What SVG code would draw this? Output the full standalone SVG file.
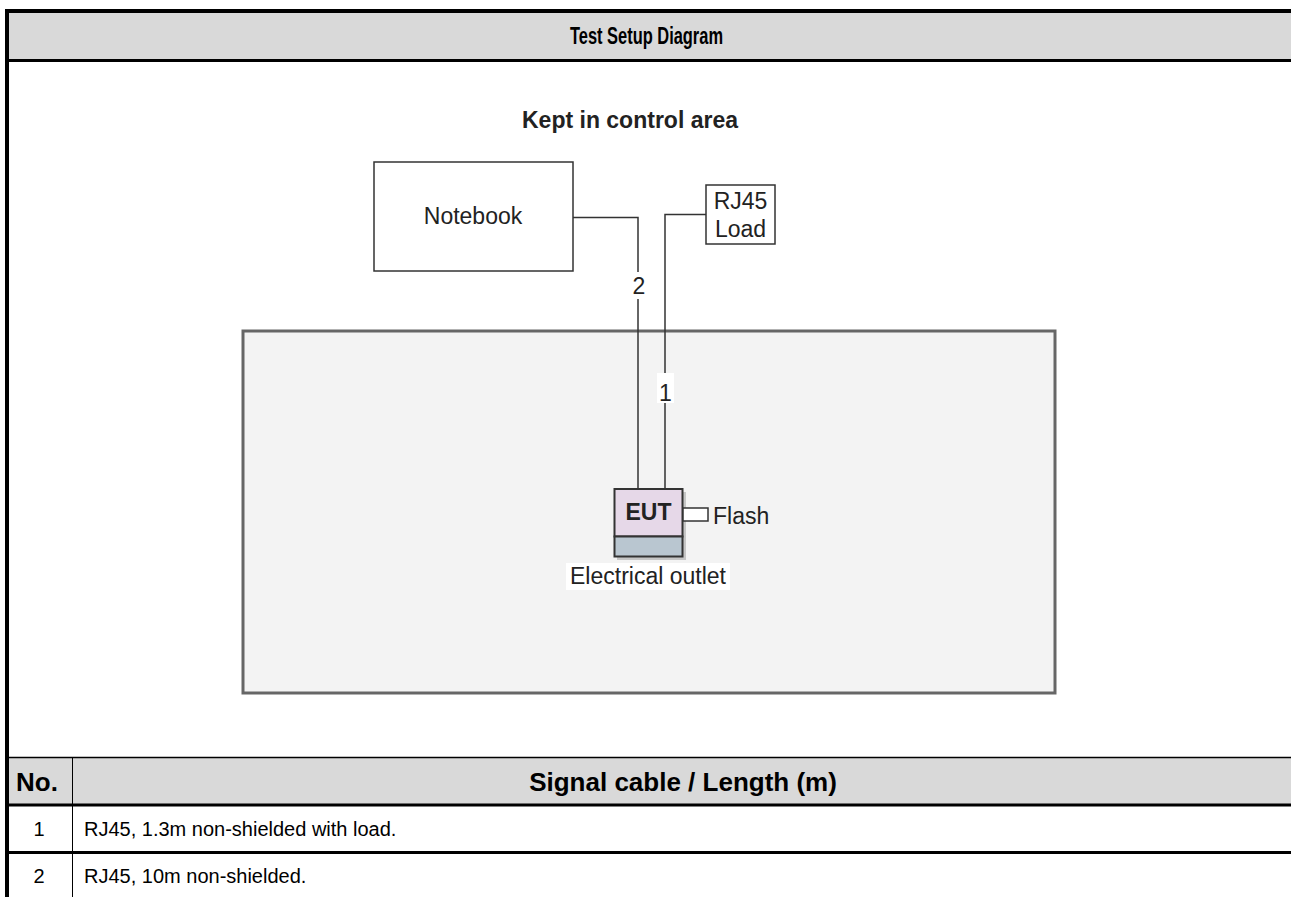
<svg xmlns="http://www.w3.org/2000/svg" width="1291" height="897" viewBox="0 0 1291 897">
<defs>
<style>
.t{font-family:"Liberation Sans",Arial,sans-serif;fill:#000}
.b{font-weight:bold}
.d{font-family:"Liberation Sans",Arial,sans-serif;fill:#222;font-size:23px}
.box{fill:#fff;stroke:#333;stroke-width:1.5}
.wire{fill:none;stroke:#333;stroke-width:1.5}
</style>
</defs>
<rect x="0" y="0" width="1291" height="897" fill="#fff"/>
<g id="frame">
<rect x="9" y="13" width="1282" height="46" fill="#d9d9d9"/>
<rect x="9" y="758" width="1282" height="46" fill="#d9d9d9"/>
<line x1="7" y1="9" x2="7" y2="897" stroke="#000" stroke-width="4"/>
<line x1="5" y1="11" x2="1291" y2="11" stroke="#000" stroke-width="4"/>
<line x1="9" y1="60.5" x2="1291" y2="60.5" stroke="#000" stroke-width="3"/>
<line x1="9" y1="757.5" x2="1291" y2="757.5" stroke="#000" stroke-width="1.5"/>
<line x1="9" y1="805" x2="1291" y2="805" stroke="#000" stroke-width="3"/>
<line x1="9" y1="852.5" x2="1291" y2="852.5" stroke="#000" stroke-width="3"/>
<line x1="72.5" y1="757" x2="72.5" y2="897" stroke="#000" stroke-width="1"/>
<text class="t b" x="570" y="44" font-size="23" textLength="153" lengthAdjust="spacingAndGlyphs">Test Setup Diagram</text>
<text class="t b" x="37" y="791" font-size="26" text-anchor="middle">No.</text>
<text class="t b" x="683" y="791" font-size="26" text-anchor="middle">Signal cable / Length (m)</text>
<text class="t" x="39" y="836" font-size="20" text-anchor="middle">1</text>
<text class="t" x="84" y="836" font-size="20">RJ45, 1.3m non-shielded with load.</text>
<text class="t" x="39" y="883" font-size="20" text-anchor="middle">2</text>
<text class="t" x="84" y="883" font-size="20">RJ45, 10m non-shielded.</text>
</g>
<text class="d b" x="630" y="128" text-anchor="middle" fill="#000">Kept in control area</text>
<g id="area">
<rect x="243" y="331" width="812" height="362" fill="#f3f3f3" stroke="#666" stroke-width="3"/>
</g>
<g id="connectors">
<polyline class="wire" points="573,217.5 638,217.5 638,272"/>
<line class="wire" x1="638" y1="299" x2="638" y2="489"/>
<polyline class="wire" points="706,214.5 665,214.5 665,489"/>
<rect x="657" y="373" width="17" height="30" fill="#fff"/>
<text class="d" x="665.5" y="401" text-anchor="middle">1</text>
<text class="d" x="639" y="294" text-anchor="middle">2</text>
</g>
<g id="notebook">
<rect class="box" x="374" y="162" width="199" height="109"/>
<text class="d" x="473" y="224" text-anchor="middle">Notebook</text>
</g>
<g id="rj45load">
<rect class="box" x="706" y="185" width="69" height="59"/>
<text class="d" x="740.5" y="209" text-anchor="middle">RJ45</text>
<text class="d" x="740.5" y="237" text-anchor="middle">Load</text>
</g>
<g id="eut">
<rect x="617" y="492" width="69" height="68" fill="#999" opacity="0.5"/>
<rect x="614.5" y="489" width="68" height="47.5" fill="#e6d8e8" stroke="#333" stroke-width="2"/>
<rect x="614.5" y="536.5" width="68" height="20" fill="#b9c6d0" stroke="#333" stroke-width="2"/>
<text class="d b" x="648.5" y="520" text-anchor="middle">EUT</text>
</g>
<g id="flash">
<rect x="683" y="508" width="25" height="13" fill="#fff" stroke="#333" stroke-width="1.5"/>
<text class="d" x="713" y="524">Flash</text>
</g>
<g id="outlet">
<rect x="566" y="563" width="164" height="27" fill="#fff"/>
<text class="d" x="648" y="584" text-anchor="middle">Electrical outlet</text>
</g>
</svg>
